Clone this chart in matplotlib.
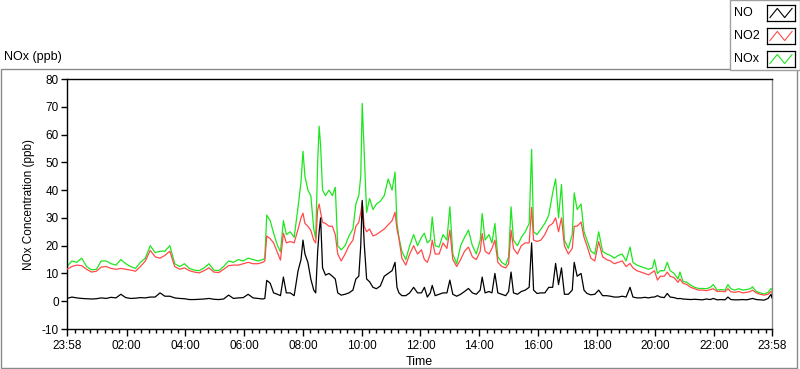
import numpy as np
import matplotlib
matplotlib.use('Agg')
import matplotlib.pyplot as plt
from matplotlib.patches import Rectangle

OUT_FILE = 'out.png'

# minutes after 23:58 (start of record)
minutes = [0, 10, 20, 30, 40, 50, 60, 70, 80, 90, 100, 110, 120, 130, 140, 150,
           160, 170, 180, 190, 200, 210, 220, 230, 240, 250, 260, 270, 280, 290,
           300, 310, 320, 330, 340, 350, 360, 370, 380, 390, 400, 404, 408, 415,
           422, 430, 436, 442, 448, 456, 464, 472, 478, 482, 486, 492, 498, 504,
           508, 512, 515, 518, 522, 528, 535, 542, 548, 553, 560, 568, 576, 584,
           590, 596, 600, 603, 607, 612, 618, 625, 632, 640, 648, 656, 664, 670,
           674, 678, 684, 692, 700, 708, 716, 724, 730, 736, 742, 746, 752, 760,
           768, 776, 782, 788, 796, 804, 812, 820, 828, 836, 844, 848, 854, 862,
           868, 874, 880, 888, 896, 902, 907, 912, 920, 928, 936, 944, 949, 953,
           960, 968, 976, 984, 992, 998, 1004, 1010, 1016, 1024, 1032, 1036, 1042,
           1050, 1056, 1062, 1070, 1078, 1086, 1094, 1102, 1110, 1118, 1126, 1134,
           1142, 1150, 1156, 1164, 1172, 1180, 1188, 1196, 1200, 1206, 1212, 1220,
           1226, 1232, 1240, 1248, 1252, 1258, 1266, 1274, 1282, 1290, 1298, 1306,
           1314, 1320, 1328, 1336, 1344, 1350, 1356, 1364, 1372, 1380, 1388, 1396,
           1400, 1408, 1416, 1424, 1432, 1438, 1440]

no_ppb = [1.0, 1.5, 1.2, 1.0, 0.9, 0.8, 0.9, 1.2, 1.0, 1.4, 1.2, 2.5, 1.3, 1.0,
          1.1, 1.3, 1.2, 1.5, 1.5, 3.0, 1.8, 1.8, 1.2, 1.0, 0.9, 0.6, 0.6, 0.7,
          0.8, 1.0, 0.7, 0.6, 0.8, 2.2, 1.0, 1.2, 1.3, 2.5, 1.2, 1.0, 0.8, 1.0,
          7.5, 6.5, 3.0, 2.5, 2.0, 8.7, 3.0, 3.0, 2.0, 11.0, 15.0, 22.0, 17.0,
          14.0, 8.0, 4.0, 3.0, 18.0, 25.0, 30.0, 12.0, 9.4, 10.0, 9.0, 8.0, 3.0,
          2.2, 2.5, 3.0, 4.0, 8.0, 9.0, 20.0, 36.3, 21.0, 8.0, 7.0, 5.0, 4.5,
          5.5, 9.0, 10.0, 11.0, 14.0, 5.0, 3.0, 2.0, 2.0, 3.0, 5.0, 3.0, 3.0,
          5.0, 1.5, 3.0, 5.7, 2.0, 2.5, 3.0, 3.0, 7.6, 2.5, 1.8, 2.5, 3.5, 4.6,
          3.0, 2.5, 4.0, 8.7, 3.0, 3.5, 3.0, 10.0, 3.0, 2.5, 2.0, 3.5, 10.5,
          3.0, 2.5, 3.5, 4.0, 5.0, 21.0, 4.0, 2.8, 3.0, 3.0, 5.0, 5.0, 13.6,
          6.0, 12.0, 2.5, 2.5, 4.0, 14.0, 9.0, 10.0, 4.0, 2.8, 2.3, 2.5, 4.0,
          2.0, 2.0, 1.8, 1.5, 1.5, 1.8, 1.5, 5.0, 1.5, 1.2, 1.2, 1.4, 1.2, 1.5,
          1.5, 2.0, 1.5, 1.3, 2.8, 1.5, 1.3, 0.9, 1.0, 0.8, 0.7, 0.6, 0.7, 0.6,
          0.5, 0.8, 0.6, 1.0, 0.5, 0.6, 0.5, 1.5, 0.6, 0.5, 0.5, 0.6, 0.5, 0.8,
          1.0, 0.6, 0.5, 0.4, 1.0, 2.5, 1.2]

no2_ppb = [11.5, 12.5, 13.0, 12.8, 11.5, 10.5, 10.8, 12.3, 12.5, 11.8, 11.5,
           11.8, 11.5, 11.2, 10.8, 12.5, 14.5, 18.3, 16.0, 15.5, 16.5, 18.0,
           12.5, 11.5, 12.0, 11.0, 10.5, 10.2, 11.0, 12.0, 10.5, 10.3, 11.5,
           12.8, 13.0, 13.0, 13.5, 14.0, 13.5, 13.5, 14.0, 14.5, 23.5, 22.5,
           21.0, 17.5, 14.8, 24.5, 21.0, 21.5, 21.0, 26.0, 30.0, 31.7, 28.0,
           27.0, 25.5, 22.0, 21.0, 33.0, 35.0, 32.0, 28.4, 28.0, 27.0, 27.0,
           24.0, 17.0, 14.5, 17.0, 20.0, 22.0, 27.0, 28.4, 32.0, 35.7, 27.0,
           25.0, 26.0, 23.5, 24.0, 25.0, 26.0, 27.5, 29.0, 32.0, 26.0, 22.6,
           15.5, 13.0, 17.0, 20.0, 17.0, 18.5, 15.0, 14.0, 17.0, 22.0, 17.0,
           17.0, 21.0, 19.0, 25.6, 15.0, 12.5, 15.0, 18.0, 19.5, 16.0, 15.0,
           18.0, 24.4, 18.0, 17.0, 19.0, 22.0, 14.0, 12.5, 12.0, 13.5, 25.6,
           19.0, 17.0, 20.0, 21.0, 21.0, 33.8, 22.0, 21.5, 22.0, 24.0, 27.0,
           28.0, 30.0, 25.0, 30.0, 20.0, 17.0, 19.0, 27.0, 27.0, 28.5, 23.0,
           20.0, 15.5, 14.5, 21.5, 16.0, 15.0, 14.5, 13.5, 14.0, 14.5, 12.5,
           13.6, 12.0, 11.0, 10.5, 10.0, 9.5, 10.5, 11.0, 7.6, 9.0, 9.0, 10.5,
           9.0, 8.5, 6.8, 8.0, 6.5, 6.0, 5.0, 4.5, 4.0, 4.0, 3.8, 4.2, 4.5, 3.5,
           3.6, 3.4, 4.5, 3.4, 3.2, 3.5, 3.0, 3.2, 3.5, 4.0, 3.0, 2.5, 2.2, 2.5,
           3.5, 3.0]

nox_ppb = [12.5, 14.5, 14.0, 15.5, 12.5, 11.3, 11.5, 14.5, 14.5, 13.5, 13.0,
           15.0, 13.5, 12.5, 11.8, 14.0, 15.5, 20.0, 17.5, 18.0, 18.0, 20.0,
           13.5, 12.5, 13.5, 11.8, 11.2, 11.0, 12.0, 13.5, 11.2, 11.0, 12.5,
           14.5, 14.0, 15.0, 14.5, 15.5, 15.0, 14.5, 15.0, 15.5, 31.0, 29.0,
           24.5, 20.0, 17.8, 29.0, 24.0, 25.0, 23.0, 34.0, 43.0, 54.0, 45.0,
           40.0, 38.0, 26.0, 22.6, 50.0, 63.0, 56.0, 40.0, 38.0, 40.0, 38.0,
           41.0, 20.0, 18.5, 20.0, 23.5, 26.0, 35.0, 38.0, 45.0, 71.2, 53.6,
           32.0, 37.0, 33.0, 35.0, 36.0, 38.0, 44.0, 40.0, 46.5, 28.0, 23.0,
           18.0, 15.0, 20.0, 24.0, 20.0, 23.0, 24.5, 21.0, 22.0, 30.3, 20.0,
           19.5, 24.0, 22.0, 34.0, 17.0, 13.5, 20.0, 23.0, 25.6, 20.0, 17.0,
           22.0, 31.6, 22.0, 24.0, 21.0, 28.0, 16.0, 14.0, 13.0, 16.0, 34.0,
           22.0, 20.0, 23.0, 25.0, 28.0, 54.7, 25.0, 24.0, 26.0, 28.0, 31.0,
           39.0, 44.0, 30.0, 42.0, 22.0, 19.0, 24.0, 39.0, 33.0, 35.0, 25.0,
           22.0, 18.0, 17.0, 25.0, 18.0, 17.0, 16.5, 15.5, 16.5, 17.0, 14.5,
           19.5, 14.0, 13.0, 12.5, 12.0, 11.5, 12.0, 15.0, 10.0, 11.0, 11.0,
           14.0, 11.0, 10.0, 8.0, 10.5, 7.2, 6.8, 5.8, 5.0, 4.6, 4.6, 4.5, 5.0,
           6.0, 4.0, 4.2, 4.0, 6.0, 4.5, 4.0, 4.5, 4.0, 4.2, 4.5, 5.2, 3.5, 3.0,
           2.6, 3.2, 4.6, 4.0]

tick_minutes = [0, 122, 242, 362, 482, 602, 722, 842, 962, 1082, 1202, 1322, 1440]
tick_labels = ['23:58', '02:00', '04:00', '06:00', '08:00', '10:00', '12:00',
               '14:00', '16:00', '18:00', '20:00', '22:00', '23:58']
y_ticks = [-10, 0, 10, 20, 30, 40, 50, 60, 70, 80]

series_names = ['NO', 'NO2', 'NOx']
series_colors = ['#000000', '#ff4a4a', '#1ee61e']

W, H = 800, 369


def fx(px):
    return px / W


def fy(py):
    # pixel row (from top) -> figure fraction (from bottom)
    return (H - py) / H


def drawFrame(fig):
    # outer chart frame and legend box, LabVIEW style
    fig.add_artist(Rectangle((fx(0.5), fy(368)), fx(796.5), fy(69) - fy(368),
                             transform=fig.transFigure, fill=False,
                             edgecolor='#8a8a8a', lw=1.0, zorder=-2))
    fig.add_artist(Rectangle((fx(730), fy(70)), fx(70), fy(0) - fy(70),
                             transform=fig.transFigure, facecolor='white',
                             edgecolor='#a0a0a0', lw=1.0, zorder=-1))


def drawLegend(fig):
    rows = [13, 36, 59]
    zig_x = [0, 1, 2, 3]
    zig_y = [0.1, 0.9, 0.1, 0.9]
    for name, color, yc in zip(series_names, series_colors, rows):
        fig.text(fx(734), fy(yc), name, fontsize=9, va='center', ha='left')
        sw = fig.add_axes([fx(767), fy(yc + 8), fx(28), fy(yc - 8) - fy(yc + 8)])
        sw.set_zorder(5)
        sw.plot(zig_x, zig_y, color=color, lw=0.8)
        sw.set_xlim(-0.4, 3.4)
        sw.set_ylim(-0.2, 1.2)
        sw.set_xticks([])
        sw.set_yticks([])
        for s in sw.spines.values():
            s.set_color('black')
            s.set_linewidth(0.9)


def main():
    plt.rcParams['font.family'] = ['Liberation Sans', 'DejaVu Sans']
    fig = plt.figure(figsize=(W / 100, H / 100), dpi=100)
    fig.patch.set_facecolor('white')

    ax = fig.add_axes([fx(67), fy(329), fx(772 - 67), fy(79) - fy(329)])
    ax.plot(minutes, nox_ppb, color=series_colors[2], lw=0.9, zorder=2)
    ax.plot(minutes, no2_ppb, color=series_colors[1], lw=0.9, zorder=3)
    ax.plot(minutes, no_ppb, color=series_colors[0], lw=0.9, zorder=4)

    ax.set_xlim(0, 1440)
    ax.set_ylim(-10, 80)
    ax.set_yticks(y_ticks)
    ax.set_yticklabels([str(v) for v in y_ticks], fontsize=8.5)
    ax.set_xticks(tick_minutes)
    ax.set_xticklabels(tick_labels, fontsize=8.5)
    ax.set_xticks(list(range(17, 1440, 15)), minor=True)
    ax.tick_params(axis='y', direction='out', length=4, width=1, pad=2)
    ax.tick_params(axis='x', which='major', direction='out', length=5, width=1, pad=3)
    ax.tick_params(axis='x', which='minor', direction='out', length=3, width=1)

    ax.spines['left'].set_color('black')
    ax.spines['top'].set_color('black')
    ax.spines['bottom'].set_color('black')
    ax.spines['right'].set_color('#8a8a8a')
    for s in ax.spines.values():
        s.set_linewidth(1.0)

    ax.set_xlabel('Time', fontsize=9, labelpad=3)
    ax.set_ylabel('NOx Concentration (ppb)', fontsize=8.5, labelpad=5)

    fig.text(fx(4), fy(57), 'NOx (ppb)', fontsize=9, va='center', ha='left')

    drawFrame(fig)
    drawLegend(fig)

    fig.savefig(OUT_FILE, dpi=100)


if __name__ == '__main__':
    main()
